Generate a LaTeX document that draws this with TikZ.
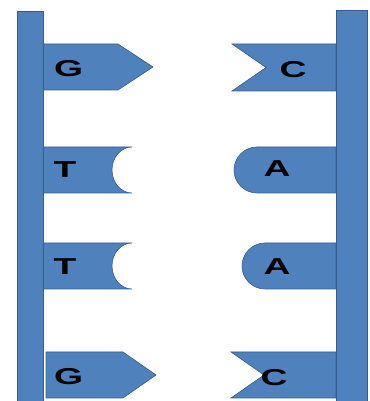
\documentclass[tikz,border=0pt]{standalone}
\usepackage{fontspec}
\setmainfont{Liberation Sans}
\usepackage{tikz}
\definecolor{strandblue}{RGB}{79, 129, 189}
\definecolor{edgeblue}{RGB}{56, 93, 138}
\newcommand{\wide}[1]{\scalebox{1.62}[1]{#1}}

\begin{document}
\begin{tikzpicture}[x=1pt, y=1pt,
  backbone/.style={fill=strandblue, draw=edgeblue, line width=0.8pt},
  base/.style={fill=strandblue, draw=edgeblue, line width=0.6pt},
  letter/.style={font=\fontsize{23}{23}\selectfont\bfseries, inner sep=0pt}]

  \useasboundingbox (0,0) rectangle (369,401);
  \begin{scope}
  \clip (0,0) rectangle (369,401);

  % left strand bases
  \draw[base] (43,357) -- (118,357) -- (153,334) -- (118,311) -- (43,311) -- cycle;
  \draw[base] (43,254) -- (132,254) arc[start angle=90, end angle=270, x radius=20, y radius=23] -- (43,208) -- cycle;
  \draw[base] (43,158) -- (132,158) arc[start angle=90, end angle=270, x radius=20, y radius=23] -- (43,112) -- cycle;
  \draw[base] (46,49) -- (123,49) -- (156,26) -- (123,3) -- (46,3) -- cycle;

  % right strand bases
  \draw[base] (336,357) -- (232,357) -- (266,333.5) -- (232,310) -- (336,310) -- cycle;
  \draw[base] (336,254) -- (257,254) arc[start angle=90, end angle=270, radius=23] -- (336,208) -- cycle;
  \draw[base] (336,158) -- (265,158) arc[start angle=90, end angle=270, radius=23] -- (336,112) -- cycle;
  \draw[base] (336,49) -- (231,49) -- (264,26) -- (231,3) -- (336,3) -- cycle;

  % backbones
  \draw[backbone] (17,390) rectangle (43,-5);
  \draw[backbone] (336,391) rectangle (367,-5);
  \end{scope}

  % base letters
  \node[letter] (g1) at (68.5,332) {\wide{G}};
  \node[letter] (t1) at (65,231) {\wide{T}};
  \node[letter] (t2) at (65,134) {\wide{T}};
  \node[letter] (g2) at (68.5,24) {\wide{G}};
  \node[letter] (c1) at (293,331) {\wide{C}};
  \node[letter] (a1) at (277,232) {\wide{A}};
  \node[letter] (a2) at (277,134) {\wide{A}};
  \node[letter] (c2) at (274,23) {\wide{C}};

\end{tikzpicture}
\end{document}
